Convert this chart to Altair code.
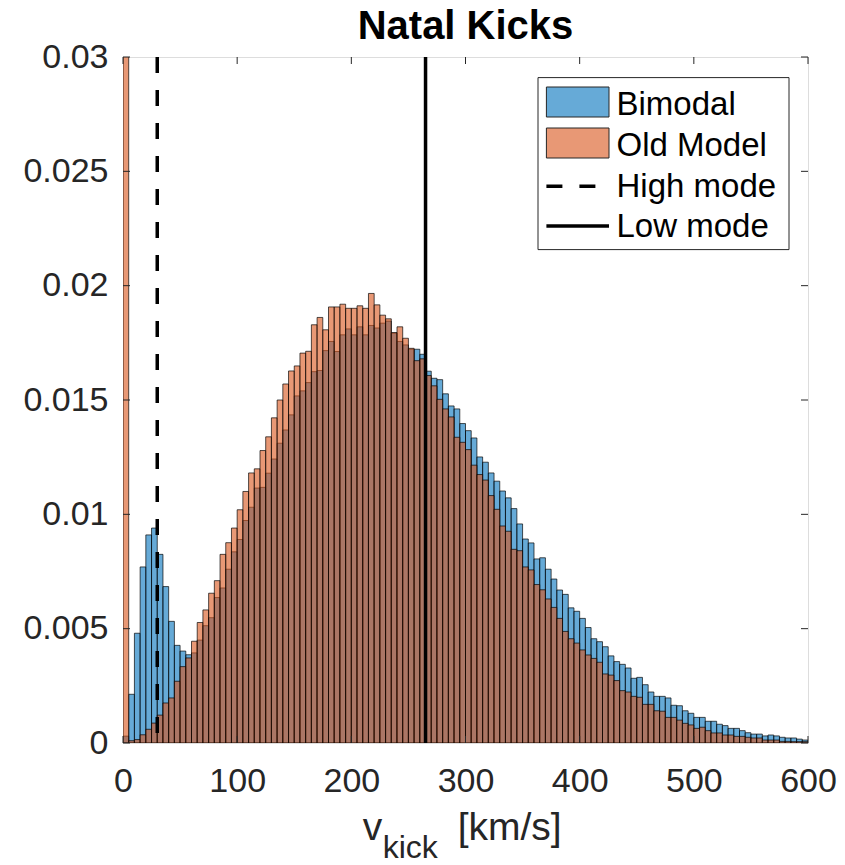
import altair as alt
import pandas as pd

# ---------------- data ----------------
BIN_WIDTH = 5
BIN_LEFT = list(range(0, 600, BIN_WIDTH))

BIMODAL = [
    0.0003, 0.00213, 0.0048, 0.0077, 0.0091, 0.0094, 0.00825, 0.00684, 0.00532, 0.00427,
    0.00402, 0.00386, 0.00394, 0.0045, 0.00513, 0.00548, 0.00636, 0.00678, 0.0076, 0.00836,
    0.0089, 0.00973, 0.01031, 0.01115, 0.01118, 0.0118, 0.01242, 0.01311, 0.01369, 0.01435,
    0.01518, 0.0154, 0.01576, 0.01624, 0.01629, 0.01716, 0.01756, 0.01712, 0.01785, 0.01811,
    0.01785, 0.0182, 0.01785, 0.01826, 0.01815, 0.01836, 0.01845, 0.01792, 0.01756, 0.01741,
    0.01722, 0.01722, 0.0170, 0.01626, 0.01595, 0.01589, 0.01527, 0.01474, 0.01461, 0.01397,
    0.01366, 0.01334, 0.01251, 0.01228, 0.01181, 0.01145, 0.01102, 0.01072, 0.01025, 0.00958,
    0.00892, 0.00875, 0.00805, 0.0081, 0.0076, 0.00717, 0.00669, 0.0065, 0.00591, 0.00576,
    0.00545, 0.00505, 0.00456, 0.00443, 0.00421, 0.00381, 0.00356, 0.00344, 0.00328, 0.00283,
    0.00287, 0.00255, 0.00223, 0.00204, 0.00204, 0.00197, 0.00165, 0.00163, 0.00141, 0.0013,
    0.00112, 0.00112, 0.00095, 0.00095, 0.00082, 0.00076, 0.00064, 0.00064, 0.00054, 0.00045,
    0.00039, 0.00039, 0.00031, 0.00035, 0.00031, 0.00025, 0.00022, 0.00022, 0.00017, 0.00013,
]

OLD_MODEL = [
    0.045, 0.0001, 0.00015, 0.00036, 0.0006, 0.00087, 0.00122, 0.00175, 0.00197, 0.0027,
    0.00334, 0.00372, 0.00445, 0.00527, 0.00582, 0.00655, 0.0071, 0.00825, 0.00876, 0.0094,
    0.0102, 0.011, 0.01181, 0.01199, 0.01279, 0.01339, 0.01422, 0.015, 0.0157, 0.01627,
    0.01649, 0.01705, 0.01713, 0.01829, 0.01861, 0.01807, 0.01907, 0.01907, 0.01919, 0.01901,
    0.01901, 0.01912, 0.01901, 0.01966, 0.01916, 0.01871, 0.01855, 0.01795, 0.0182, 0.0177,
    0.01726, 0.01672, 0.0168, 0.01607, 0.01562, 0.01503, 0.01461, 0.01426, 0.01337, 0.01315,
    0.01283, 0.01215, 0.01174, 0.0115, 0.01082, 0.01022, 0.00949, 0.00926, 0.00847, 0.00841,
    0.0077, 0.00757, 0.00693, 0.0067, 0.0063, 0.00593, 0.00545, 0.00488, 0.00456, 0.00437,
    0.00407, 0.00385, 0.0037, 0.00353, 0.00302, 0.00297, 0.00273, 0.00229, 0.00223, 0.00204,
    0.002, 0.00169, 0.00169, 0.00141, 0.00139, 0.00112, 0.00112, 0.001, 0.00086, 0.00079,
    0.00064, 0.00069, 0.00054, 0.00044, 0.00044, 0.00035, 0.00035, 0.00029, 0.00029, 0.00025,
    0.00022, 0.00022, 0.00013, 0.00013, 0.00013, 0.00007, 0.00007, 0.00006, 0.00006, 0.00006,
]

MODE_NAMES = ["High mode", "Low mode"]
MODE_VALUES = [30, 265]

X_TICKS = [0, 100, 200, 300, 400, 500, 600]
Y_TICKS = [0, 0.005, 0.01, 0.015, 0.02, 0.025, 0.03]
LEGEND_LABELS = ["Bimodal", "Old Model", "High mode", "Low mode"]
TITLE = "Natal Kicks"
XLABEL_PARTS = ["v", "kick", "[km/s]"]

# ---------------- styling ----------------
W, H = 685, 686
FONT = "Liberation Sans"
TXT = "#262626"
BLUE = "#0072BD"
ORANGE = "#D95319"

df = pd.DataFrame({
    "left": BIN_LEFT,
    "right": [b + BIN_WIDTH for b in BIN_LEFT],
    "bimodal": BIMODAL,
    "old": OLD_MODEL,
})
modes = pd.DataFrame({"mode": MODE_NAMES, "v": MODE_VALUES})
xt = pd.DataFrame({"t": X_TICKS})
yt = pd.DataFrame({"t": Y_TICKS})
one = pd.DataFrame({"k": [0]})

xscale = alt.Scale(domain=[0, 600], nice=False, zero=False)
yscale = alt.Scale(domain=[0, 0.03], nice=False)

xaxis = alt.Axis(values=X_TICKS, format="d", title=None, domain=False, ticks=False,
                 grid=False, labelFontSize=34, labelFont=FONT, labelColor=TXT,
                 labelPadding=21, labelFlush=False, labelOverlap=False)
yaxis = alt.Axis(values=Y_TICKS, format="~g", title=None, domain=False, ticks=False,
                 grid=False, labelFontSize=34, labelFont=FONT, labelColor=TXT,
                 labelPadding=15, labelFlush=False, labelOverlap=False)

X = lambda f: alt.X(f, scale=xscale, axis=xaxis)
Y = lambda f: alt.Y(f, scale=yscale, axis=yaxis)


def bars(field, color):
    return alt.Chart(df).mark_rect(
        fill=color, fillOpacity=0.6, stroke="black", strokeWidth=0.8,
        strokeOpacity=0.85, clip=True
    ).encode(x=X("left:Q"), x2="right:Q", y=Y(f"{field}:Q"), y2=alt.datum(0))


blue_bars = bars("bimodal", BLUE)
orange_bars = bars("old", ORANGE)

high_line = alt.Chart(modes[modes["mode"] == "High mode"]).mark_rule(
    color="black", strokeWidth=3.5, strokeDash=[16, 17]
).encode(x=X("v:Q"))
low_line = alt.Chart(modes[modes["mode"] == "Low mode"]).mark_rule(
    color="black", strokeWidth=3.5
).encode(x=X("v:Q"))

# inner ticks (MATLAB style)
tick_style = dict(color=TXT, strokeWidth=1)
bx = alt.Chart(xt).mark_rule(**tick_style).encode(x=X("t:Q"), y=alt.value(H), y2=alt.value(H - 7))
tx = alt.Chart(xt).mark_rule(**tick_style).encode(x=X("t:Q"), y=alt.value(0), y2=alt.value(7))
ly = alt.Chart(yt).mark_rule(**tick_style).encode(y=Y("t:Q"), x=alt.value(0), x2=alt.value(7))
ry = alt.Chart(yt).mark_rule(**tick_style).encode(y=Y("t:Q"), x=alt.value(W), x2=alt.value(W - 7))

# legend (drawn inside plot, top right)
LX0, LX1 = 415, 666
LY0, LY1 = 20.6, 192.6
SW0, SW1 = 423.4, 486
TX = 493.5
leg_box = alt.Chart(one).mark_rect(fill="white", stroke=TXT, strokeWidth=1).encode(
    x=alt.value(LX0), x2=alt.value(LX1), y=alt.value(LY0), y2=alt.value(LY1))
sw1 = alt.Chart(one).mark_rect(fill=BLUE, fillOpacity=0.6, stroke=TXT, strokeWidth=1).encode(
    x=alt.value(SW0), x2=alt.value(SW1), y=alt.value(30), y2=alt.value(60))
sw2 = alt.Chart(one).mark_rect(fill=ORANGE, fillOpacity=0.6, stroke=TXT, strokeWidth=1).encode(
    x=alt.value(SW0), x2=alt.value(SW1), y=alt.value(71), y2=alt.value(101))
ln1 = alt.Chart(one).mark_rule(color="black", strokeWidth=3.5, strokeDash=[16, 17]).encode(
    x=alt.value(SW0), x2=alt.value(SW1), y=alt.value(129.3))
ln2 = alt.Chart(one).mark_rule(color="black", strokeWidth=3.5).encode(
    x=alt.value(SW0), x2=alt.value(SW1), y=alt.value(169))
leg_texts = []
for lab, yb in zip(LEGEND_LABELS, [57.6, 98.6, 139.6, 180.3]):
    leg_texts.append(
        alt.Chart(one).mark_text(align="left", baseline="alphabetic", font=FONT,
                                 fontSize=33, color="black").encode(
            x=alt.value(TX), y=alt.value(yb), text=alt.value(lab)))

# x-axis title with subscript
xl = []
for part, xp, yp, fs in zip(XLABEL_PARTS, [239.7, 259.7, 334.7], [783.3, 801, 783.3], [39, 32, 39]):
    xl.append(alt.Chart(one).mark_text(align="left", baseline="alphabetic", font=FONT,
                                      fontSize=fs, color=TXT).encode(
        x=alt.value(xp), y=alt.value(yp), text=alt.value(part)))

chart = alt.layer(
    blue_bars, orange_bars, high_line, low_line, bx, tx, ly, ry,
    leg_box, sw1, sw2, ln1, ln2, *leg_texts, *xl
).properties(
    width=W, height=H,
    title=alt.TitleParams(text=TITLE, fontSize=40, fontWeight="bold", font=FONT,
                          color="black", anchor="middle", frame="group",
                          baseline="alphabetic", offset=2, dy=41),
    padding={"left": 123, "top": 57, "right": 37, "bottom": 122},
    autosize=alt.AutoSizeParams(type="none"),
).configure_view(stroke=TXT, strokeWidth=1.2).configure(background="white")

chart.save("out.html", embed_options={"renderer": "svg", "actions": False})
